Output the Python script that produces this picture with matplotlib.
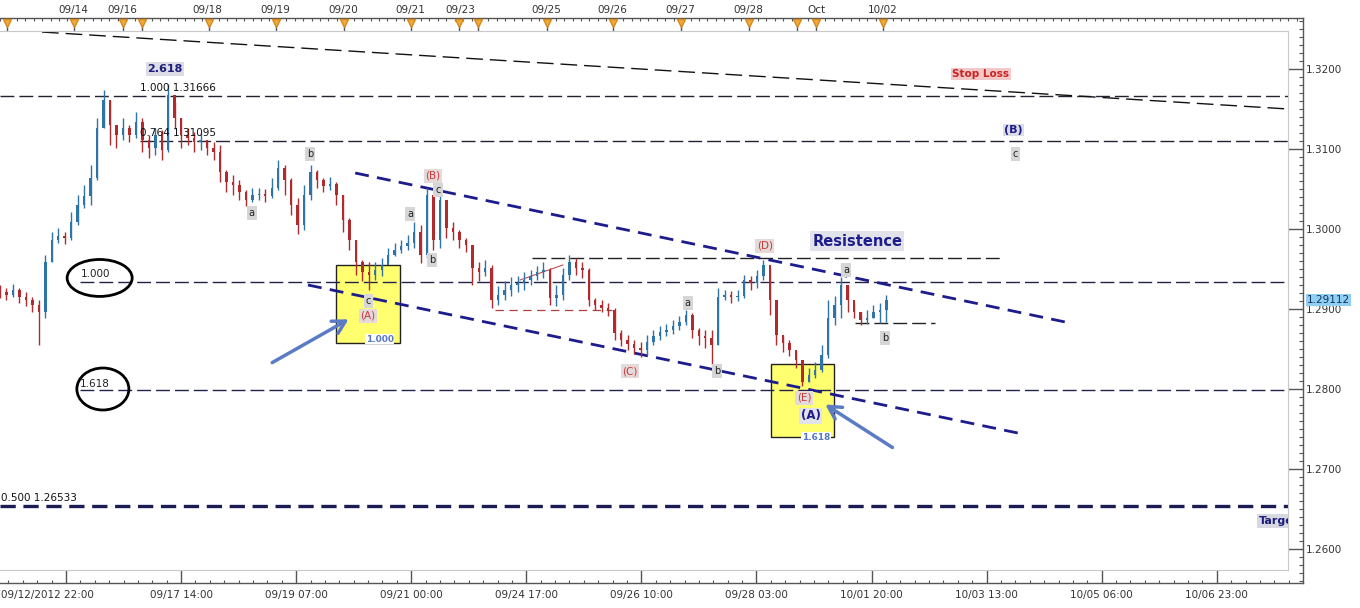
import numpy as np
import matplotlib
matplotlib.use("Agg")
import matplotlib.pyplot as plt
from matplotlib.patches import Rectangle, Ellipse
import matplotlib.transforms as mtransforms

plt.rcParams['font.family'] = ['DejaVu Sans']
plt.rcParams['lines.scale_dashes'] = False

# EUR/USD-ish candles, one candle per ~2.3 trading hours
closes = [1.2921, 1.2917, 1.2924, 1.2915, 1.2911, 1.2905, 1.2896, 1.2959, 1.2986, 1.2991,
          1.2989, 1.3009, 1.3030, 1.3041, 1.3064, 1.3126, 1.3161, 1.3130, 1.3117, 1.3126,
          1.3117, 1.3134, 1.3111, 1.3101, 1.3117, 1.3099, 1.3167, 1.3139, 1.3117, 1.3114,
          1.3109, 1.3111, 1.3101, 1.3096, 1.3071, 1.3059, 1.3055, 1.3046, 1.3036, 1.3042,
          1.3044, 1.3041, 1.3051, 1.3076, 1.3061, 1.3030, 1.3005, 1.3042, 1.3071, 1.3061,
          1.3054, 1.3056, 1.3042, 1.3011, 1.2986, 1.2959, 1.2946, 1.2942, 1.2949, 1.2955,
          1.2967, 1.2974, 1.2979, 1.2982, 1.2996, 1.2967, 1.3042, 1.2986, 1.3036, 1.3001,
          1.2996, 1.2986, 1.2980, 1.2951, 1.2946, 1.2951, 1.2911, 1.2917, 1.2924, 1.2930,
          1.2932, 1.2936, 1.2941, 1.2946, 1.2949, 1.2914, 1.2917, 1.2942, 1.2959, 1.2951,
          1.2949, 1.2911, 1.2905, 1.2901, 1.2899, 1.2870, 1.2861, 1.2856, 1.2851, 1.2849,
          1.2859, 1.2866, 1.2871, 1.2874, 1.2879, 1.2884, 1.2892, 1.2874, 1.2866, 1.2864,
          1.2855, 1.2915, 1.2917, 1.2915, 1.2916, 1.2936, 1.2932, 1.2941, 1.2955, 1.2911,
          1.2867, 1.2857, 1.2849, 1.2836, 1.2809, 1.2817, 1.2824, 1.2842, 1.2889, 1.2905,
          1.2930, 1.2911, 1.2896, 1.2886, 1.2889, 1.2896, 1.2899, 1.29112]
highs = [1.2930, 1.2926, 1.2931, 1.2926, 1.2921, 1.2915, 1.2911, 1.2967, 1.2996, 1.3001,
         1.2996, 1.3021, 1.3042, 1.3055, 1.3080, 1.3139, 1.3174, 1.3161, 1.3130, 1.3139,
         1.3130, 1.3146, 1.3139, 1.3117, 1.3126, 1.3124, 1.3181, 1.3159, 1.3139, 1.3126,
         1.3121, 1.3120, 1.3111, 1.3109, 1.3105, 1.3074, 1.3067, 1.3061, 1.3049, 1.3051,
         1.3051, 1.3050, 1.3064, 1.3086, 1.3080, 1.3064, 1.3039, 1.3055, 1.3080, 1.3074,
         1.3064, 1.3065, 1.3059, 1.3042, 1.3014, 1.2986, 1.2961, 1.2959, 1.2959, 1.2964,
         1.2976, 1.2982, 1.2986, 1.2992, 1.3009, 1.3005, 1.3051, 1.3042, 1.3042, 1.3036,
         1.3009, 1.2999, 1.2989, 1.2980, 1.2959, 1.2961, 1.2955, 1.2929, 1.2935, 1.2940,
         1.2941, 1.2946, 1.2949, 1.2954, 1.2959, 1.2951, 1.2930, 1.2951, 1.2967, 1.2964,
         1.2959, 1.2951, 1.2914, 1.2911, 1.2908, 1.2901, 1.2874, 1.2867, 1.2861, 1.2859,
         1.2867, 1.2874, 1.2879, 1.2881, 1.2886, 1.2891, 1.2899, 1.2895, 1.2876, 1.2874,
         1.2874, 1.2926, 1.2924, 1.2922, 1.2924, 1.2942, 1.2941, 1.2949, 1.2961, 1.2951,
         1.2911, 1.2867, 1.2861, 1.2849, 1.2836, 1.2826, 1.2834, 1.2855, 1.2911, 1.2916,
         1.2940, 1.2930, 1.2908, 1.2896, 1.2899, 1.2905, 1.2908, 1.2917]
lows = [1.2914, 1.2911, 1.2915, 1.2907, 1.2904, 1.2896, 1.2855, 1.2889, 1.2959, 1.2982,
        1.2981, 1.2986, 1.3005, 1.3026, 1.3030, 1.3061, 1.3126, 1.3105, 1.3101, 1.3111,
        1.3109, 1.3114, 1.3096, 1.3089, 1.3092, 1.3086, 1.3096, 1.3126, 1.3101, 1.3105,
        1.3096, 1.3099, 1.3092, 1.3086, 1.3059, 1.3046, 1.3042, 1.3036, 1.3029, 1.3034,
        1.3036, 1.3034, 1.3039, 1.3049, 1.3042, 1.3017, 1.2994, 1.2999, 1.3036, 1.3051,
        1.3046, 1.3049, 1.3030, 1.2996, 1.2974, 1.2942, 1.2935, 1.2924, 1.2936, 1.2941,
        1.2959, 1.2966, 1.2970, 1.2974, 1.2976, 1.2958, 1.2964, 1.2974, 1.2976, 1.2989,
        1.2986, 1.2976, 1.2971, 1.2930, 1.2935, 1.2941, 1.2901, 1.2905, 1.2911, 1.2916,
        1.2921, 1.2924, 1.2930, 1.2936, 1.2939, 1.2905, 1.2904, 1.2911, 1.2936, 1.2942,
        1.2939, 1.2904, 1.2899, 1.2896, 1.2891, 1.2861, 1.2854, 1.2849, 1.2844, 1.2840,
        1.2842, 1.2855, 1.2861, 1.2866, 1.2869, 1.2874, 1.2880, 1.2864, 1.2855, 1.2851,
        1.2830, 1.2855, 1.2911, 1.2908, 1.2910, 1.2914, 1.2924, 1.2926, 1.2936, 1.2892,
        1.2855, 1.2846, 1.2841, 1.2826, 1.2804, 1.2809, 1.2814, 1.2821, 1.2839, 1.2880,
        1.2889, 1.2896, 1.2889, 1.2880, 1.2881, 1.2889, 1.2882, 1.2884]
opens = [1.2925] + closes[:-1]

HOURS_PER_BAR = 2.305
# axis labels (positions in trading hours from chart start)
bottom_labels = ['09/12/2012 22:00', '09/17 14:00', '09/19 07:00', '09/21 00:00', '09/24 17:00',
                 '09/26 10:00', '09/28 03:00', '10/01 20:00', '10/03 13:00', '10/05 06:00',
                 '10/06 23:00']
bottom_hours = [23.5 + 41 * k for k in range(len(bottom_labels))]
top_labels = ['09/14', '09/16', '09/18', '09/19', '09/20', '09/21', '09/23', '09/25',
              '09/26', '09/27', '09/28', 'Oct', '10/02']
top_hours = [26.2, 43.5, 74.0, 98.2, 122.3, 146.2, 164.0, 194.7, 218.2, 242.4, 266.7, 290.7, 314.4]
marker_hours = [2.5, 26.4, 43.8, 50.6, 74.5, 98.3, 122.5, 146.4, 163.5, 170.3, 194.9,
                218.4, 242.6, 266.8, 283.9, 290.7, 314.6]
last_price = 1.29112

W, H = 1360, 608
fig = plt.figure(figsize=(13.6, 6.08), dpi=100)

def rect(x0, y0, x1, y1):
    return [x0 / W, 1 - y1 / H, (x1 - x0) / W, (y1 - y0) / H]

PX_PER_BAR = 6.47
PX_PER_PRICE = 8000.0

def price_at(py):
    return 1.32 - (py - 69) / PX_PER_PRICE

OUTER_X = (0, 1303 / PX_PER_BAR)
OUTER_Y = (price_at(583), price_at(18))

# outer frame with the scales
outer = fig.add_axes(rect(0, 18, 1303, 583))
outer.spines['left'].set_visible(False)
for s in ['top', 'right', 'bottom']:
    outer.spines[s].set_color('#555555')
    outer.spines[s].set_linewidth(1)
outer.yaxis.tick_right()
outer.set_yticks(np.arange(1.26, 1.3201, 0.01))
outer.set_yticklabels(['%.4f' % v for v in np.arange(1.26, 1.3201, 0.01)])
outer.set_yticks(np.arange(1.256, 1.3261, 0.001), minor=True)
outer.tick_params(axis='y', which='major', direction='in', length=11, width=1,
                  labelsize=7.5, labelcolor='#333333', color='#555555', pad=2)
outer.tick_params(axis='y', which='minor', direction='in', length=3, width=0.8, color='#555555')
bx = [h / HOURS_PER_BAR for h in bottom_hours]
outer.set_xticks(bx)
outer.set_xticklabels([''] * len(bx))
step = 41 / HOURS_PER_BAR / 8
outer.set_xticks(np.arange(bx[0] - 8 * step, OUTER_X[1], step), minor=True)
outer.tick_params(axis='x', which='major', direction='in', length=9.5, width=1, color='#555555')
outer.tick_params(axis='x', which='minor', direction='in', length=2.5, width=0.8, color='#555555')
outer.set_xlim(OUTER_X)
outer.set_ylim(OUTER_Y)
btrans = mtransforms.blended_transform_factory(outer.transData, outer.transAxes)
for i, (lab, xv) in enumerate(zip(bottom_labels, bx)):
    if i == 0:
        outer.text(0.1, -0.012, lab, transform=btrans, ha='left', va='top', fontsize=7.5, color='#333333')
    else:
        outer.text(xv, -0.012, lab, transform=btrans, ha='center', va='top', fontsize=7.5, color='#333333')

top = outer.twiny()
top.set_xticks([h / HOURS_PER_BAR for h in marker_hours])
top.set_xticklabels([''] * len(marker_hours))
top.set_xticks(np.arange(0, OUTER_X[1], 3 / HOURS_PER_BAR), minor=True)
top.tick_params(axis='x', which='major', direction='in', length=9.5, width=1, color='#555555')
top.tick_params(axis='x', which='minor', direction='in', length=2.5, width=0.8, color='#555555')
for s in top.spines.values():
    s.set_visible(False)
ttrans = mtransforms.blended_transform_factory(top.transData, top.transAxes)
top.plot([h / HOURS_PER_BAR for h in marker_hours], [1 - 5 / 565] * len(marker_hours), 'v',
         color='#f2a93b', markeredgecolor='#d48a1c', markersize=6, transform=ttrans, clip_on=False)
for lab, h in zip(top_labels, top_hours):
    top.text(h / HOURS_PER_BAR, 1.005, lab, transform=ttrans, ha='center', va='bottom',
             fontsize=7.5, color='#333333')
top.set_xlim(OUTER_X)
top.set_ylim(OUTER_Y)

outer.text(1.003, last_price, '%.5f' % last_price,
           transform=mtransforms.blended_transform_factory(outer.transAxes, outer.transData),
           ha='left', va='center', fontsize=7.5, color='#10305a', zorder=5,
           bbox=dict(boxstyle='square,pad=0.12', fc='#8fd0f2', ec='none'))

# main price area
ax = fig.add_axes(rect(0, 31, 1288, 570))
ax.set_zorder(2)
ax.set_xticks([])
ax.set_yticks([])
ax.spines['left'].set_visible(False)
for s in ['top', 'right', 'bottom']:
    ax.spines[s].set_color('#c8c8c8')

# fib / reference lines
thin = (0, (10, 3.6))
ax.hlines(1.31666, 0, 199.1, colors='#222233', lw=1, linestyles=[thin])
ax.hlines(1.31095, 21.6, 199.1, colors='#222233', lw=1, linestyles=[thin])
ax.hlines(1.29335, 12.4, 199.1, colors='#22224a', lw=1, linestyles=[thin])
ax.hlines(1.27990, 12.4, 199.1, colors='#22224a', lw=1, linestyles=[thin])
ax.hlines(1.26533, 0, 199.1, colors='#1c1c55', lw=2.4, linestyles=[(0, (11, 5.5))])
ax.hlines(1.29640, 82.2, 154.6, colors='#222222', lw=1, linestyles=[thin])
ax.hlines(1.28830, 132.1, 144.5, colors='#222222', lw=1, linestyles=[thin])
ax.hlines(1.28990, 76.5, 94.6, colors='#b04040', lw=0.9, linestyles=[(0, (6, 4))])
ax.plot([80.4, 87.0], [1.29363, 1.2955], color='#c05050', lw=0.8)

# trend lines
ax.plot([6.5, 199.1], [1.32462, 1.3150], color='#111111', lw=1, ls=(0, (12, 5)))
ax.plot([54.9, 164.6], [1.3070, 1.28838], color='#1c1c8c', lw=2, ls=(0, (10, 6)))
ax.plot([47.6, 157.3], [1.2930, 1.2745], color='#1c1c8c', lw=2, ls=(0, (10, 6)))

# yellow zones
ax.add_patch(Rectangle((51.9, 1.28575), 9.9, 0.00975, fc='#ffff70', ec='#222222', lw=1, zorder=1))
ax.add_patch(Rectangle((119.2, 1.2740), 9.7, 0.00913, fc='#ffff70', ec='#222222', lw=1, zorder=1))

# candles
x = np.arange(len(closes))
o = np.array(opens)
c = np.array(closes)
colors = np.where(c >= o, '#2f74a8', '#b02a2e')
ax.vlines(x, lows, highs, colors=colors, lw=1.0, zorder=3)
body = np.maximum(np.abs(c - o), 0.00008)
ax.bar(x, body, bottom=np.minimum(o, c), width=0.38, color=colors, zorder=3)

# ellipses
ax.add_patch(Ellipse((15.4, 1.29388), 10.05, 0.00462, fill=False, ec='black', lw=2, zorder=4))
ax.add_patch(Ellipse((15.9, 1.2800), 8.04, 0.00525, fill=False, ec='black', lw=2, zorder=4))
ax.text(14.8, 1.29438, '1.000', fontsize=7.5, ha='center', va='center', color='#222222', zorder=5)
ax.text(14.7, 1.28063, '1.618', fontsize=7.5, ha='center', va='center', color='#222222', zorder=5)

# fib texts
ax.text(21.6, 1.31763, '1.000 1.31666', fontsize=7.5, ha='left', va='center', color='#111111', zorder=5)
ax.text(21.6, 1.31200, '0.764 1.31095', fontsize=7.5, ha='left', va='center', color='#111111', zorder=5)
ax.text(0.1, 1.26638, '0.500 1.26533', fontsize=7.5, ha='left', va='center', color='#111111', zorder=5)
ax.text(25.5, 1.3200, '2.618', fontsize=8, fontweight='bold', ha='center', va='center', color='#1c1c7a',
        zorder=5, bbox=dict(boxstyle='square,pad=0.15', fc='#dcdce6', ec='none'))
ax.text(58.7, 1.28625, '1.000', fontsize=6.5, fontweight='bold', ha='center', va='center', color='#5a78c0',
        zorder=5, bbox=dict(boxstyle='square,pad=0.05', fc='white', ec='none'))
ax.text(126.1, 1.2740, '1.618', fontsize=6.5, fontweight='bold', ha='center', va='center', color='#5a78c0',
        zorder=5, bbox=dict(boxstyle='square,pad=0.05', fc='white', ec='none'))

# wave labels
grey_lbl = [('b', 47.9, 1.30938), ('a', 38.9, 1.3020), ('a', 63.4, 1.30188), ('b', 66.8, 1.29613),
            ('c', 56.9, 1.2910), ('c', 67.7, 1.30488), ('a', 106.3, 1.29075), ('b', 110.8, 1.28225),
            ('a', 130.8, 1.29488), ('b', 136.8, 1.28638), ('c', 156.9, 1.30938)]
for t, xv, yv in grey_lbl:
    ax.text(xv, yv, t, fontsize=7, ha='center', va='center', color='#222222', zorder=5,
            bbox=dict(boxstyle='square,pad=0.2', fc='#d6d6d6', ec='none'))
red_lbl = [('(B)', 66.9, 1.30663), ('(A)', 56.9, 1.28913), ('(C)', 97.4, 1.28225),
           ('(D)', 118.2, 1.29788), ('(E)', 124.3, 1.27888)]
for t, xv, yv in red_lbl:
    ax.text(xv, yv, t, fontsize=7.5, ha='center', va='center', color='#c83a3a', zorder=5,
            bbox=dict(boxstyle='square,pad=0.15', fc='#e4dada', ec='none'))
ax.text(125.3, 1.27663, '(A)', fontsize=8.5, fontweight='bold', ha='center', va='center', color='#1c1c8c',
        zorder=5, bbox=dict(boxstyle='square,pad=0.12', fc='#e2e2ea', ec='none'))
ax.text(156.6, 1.31238, '(B)', fontsize=8, fontweight='bold', ha='center', va='center', color='#1c1c8c',
        zorder=5, bbox=dict(boxstyle='square,pad=0.12', fc='#dcdce6', ec='none'))
ax.text(132.5, 1.2985, 'Resistence', fontsize=10.5, fontweight='bold', ha='center', va='center',
        color='#1c1c8c', zorder=5, bbox=dict(boxstyle='square,pad=0.15', fc='#e2e2ea', ec='none'))
ax.text(151.6, 1.31938, 'Stop Loss', fontsize=7.5, fontweight='bold', ha='center', va='center',
        color='#cc2222', zorder=5, bbox=dict(boxstyle='square,pad=0.12', fc='#f2c8c8', ec='none'))
ax.text(194.6, 1.2635, 'Target', fontsize=8, fontweight='bold', ha='left', va='center',
        color='#1c1c7a', zorder=5, clip_on=True, bbox=dict(boxstyle='square,pad=0.15', fc='#d8d8e2', ec='none'))

# arrows
arrow_kw = dict(arrowstyle='->,head_length=0.9,head_width=0.5', color='#5b7bc5', lw=2.5)
ax.annotate('', xy=(54.25, 1.28888), xytext=(41.7, 1.28313), arrowprops=arrow_kw, zorder=6)
ax.annotate('', xy=(127.2, 1.27825), xytext=(138.3, 1.2725), arrowprops=arrow_kw, zorder=6)

ax.set_xlim(0, 1288 / PX_PER_BAR)
ax.set_ylim(price_at(570), price_at(31))

fig.savefig('out.png', dpi=100)
